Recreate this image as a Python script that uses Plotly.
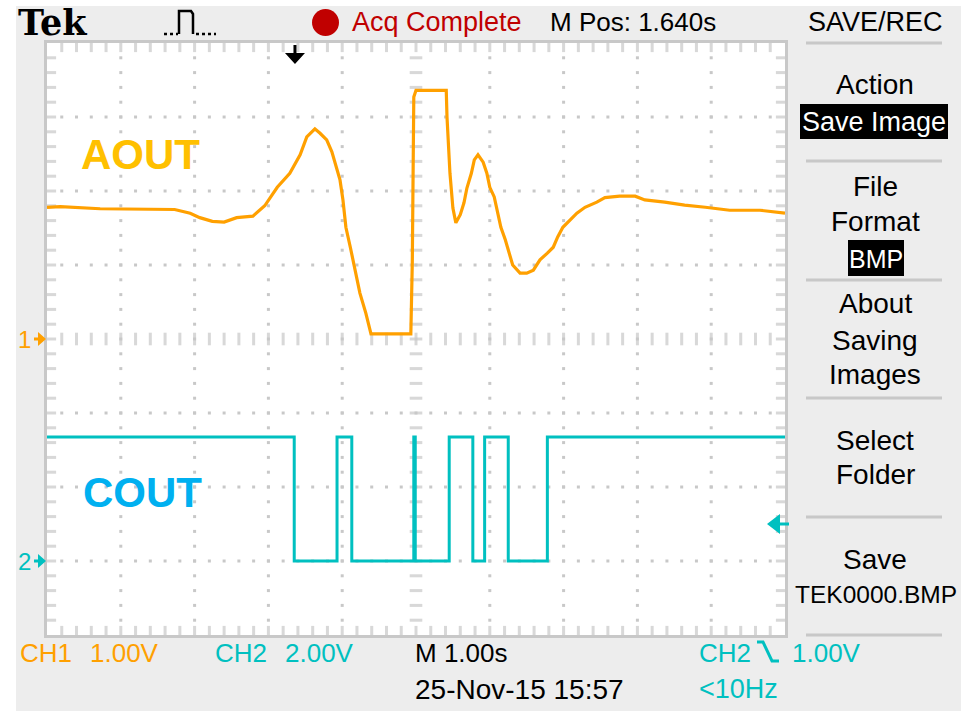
import plotly.graph_objects as go

# ---------------- data (read from the screen) ----------------
# time in seconds from left edge of the screen (1.00 s/div, 10 div)
aout_t = [0.00, 0.18, 0.72, 1.40, 1.73, 1.94, 2.07, 2.24, 2.40, 2.57, 2.79, 2.95, 3.12, 3.29, 3.43,
          3.52, 3.63, 3.70, 3.79, 3.86, 3.92, 3.97, 4.01, 4.05, 4.11, 4.17, 4.24, 4.32, 4.39, 4.93,
          4.95, 4.97, 5.00, 5.41, 5.42, 5.46, 5.50, 5.54, 5.60, 5.65, 5.69, 5.75, 5.79, 5.84, 5.91,
          5.96, 6.00, 6.06, 6.10, 6.15, 6.21, 6.26, 6.31, 6.41, 6.50, 6.59, 6.68, 6.78, 6.86, 6.92,
          6.99, 7.09, 7.18, 7.29, 7.45, 7.56, 7.76, 7.97, 8.10, 8.37, 8.64, 8.92, 9.25, 9.66, 10.0]
# CH1 volts
aout_v = [1.78, 1.79, 1.76, 1.76, 1.75, 1.70, 1.64, 1.59, 1.58, 1.64, 1.66, 1.80, 2.05, 2.24, 2.49,
          2.73, 2.84, 2.78, 2.69, 2.53, 2.32, 2.15, 1.88, 1.51, 1.24, 0.97, 0.62, 0.35, 0.07, 0.07,
          1.04, 3.27, 3.36, 3.36, 3.00, 2.24, 1.77, 1.57, 1.68, 1.84, 2.04, 2.24, 2.42, 2.49, 2.39,
          2.24, 2.05, 1.92, 1.74, 1.51, 1.34, 1.16, 1.00, 0.89, 0.89, 0.93, 1.07, 1.16, 1.24, 1.38,
          1.51, 1.61, 1.70, 1.78, 1.85, 1.91, 1.93, 1.93, 1.88, 1.85, 1.81, 1.78, 1.74, 1.74, 1.70]
# CH2 digital edges (time of each level change) and levels in volts
cout_t = [0.00, 3.35, 3.93, 4.13, 4.97, 4.99, 5.45, 5.77, 5.93, 6.25, 6.78, 10.0]
cout_v = [3.35, 0.00, 3.35, 0.00, 3.35, 0.00, 3.35, 0.00, 3.35, 0.00, 3.35, 3.35]

ch1_scale, ch1_pos = 1.0, 0.0     # V/div, div
ch2_scale, ch2_pos = 2.0, -3.0
trigger_time = 3.36               # s
trigger_level = 1.00              # V on CH2

# ---------------- styling ----------------
W, H = 961, 711
PL, PR, PT, PB = 47, 785, 43, 635
BG = "#EDEDED"
GRID = "#C8C8C8"
ORANGE = "#FFA000"
TEAL = "#00C0C0"
RED = "#C00000"
NARROW = "Liberation Sans Narrow, Liberation Sans, Arial, sans-serif"


def px(x):
    return x / W


def py(y):
    return 1 - y / H


def ppath(pts, close=False):
    s = "M " + " L ".join(f"{px(a):.5f},{py(b):.5f}" for a, b in pts)
    return s + (" Z" if close else "")


fig = go.Figure()

# graticule dots
gx, gy = [], []
for xi in range(1, 10):
    if xi == 5:
        continue
    for k in range(1, 40):
        gx.append(xi); gy.append(-4 + k * 0.2)
for yi in range(-3, 4):
    if yi == 0:
        continue
    for k in range(1, 50):
        gx.append(k * 0.2); gy.append(yi)
fig.add_trace(go.Scatter(x=gx, y=gy, mode="markers", hoverinfo="skip",
                         marker=dict(symbol="square", size=3, color=GRID, line=dict(width=0))))

# border ticks (vertical ones on top/bottom, horizontal on left/right) and centre dashes
tx = [k * 0.2 for k in range(1, 50)]
ty = [-4 + k * 0.2 for k in range(1, 40)]
fig.add_trace(go.Scatter(x=tx + tx + tx, y=[4] * 49 + [-4] * 49 + [0] * 49, mode="markers",
                         hoverinfo="skip",
                         marker=dict(symbol="line-ns", size=[13] * 98 + [9] * 49,
                                     line=dict(width=3, color=GRID))))
fig.add_trace(go.Scatter(x=[0] * 39 + [10] * 39 + [5] * 39, y=ty + ty + ty, mode="markers",
                         hoverinfo="skip",
                         marker=dict(symbol="line-ew", size=[13] * 78 + [9] * 39,
                                     line=dict(width=3, color=GRID))))

# CH2 (COUT)
fig.add_trace(go.Scatter(x=cout_t, y=[v / ch2_scale + ch2_pos for v in cout_v], mode="lines",
                         line=dict(color=TEAL, width=3, shape="hv"), hoverinfo="skip"))
# CH1 (AOUT)
fig.add_trace(go.Scatter(x=aout_t, y=[v / ch1_scale + ch1_pos for v in aout_v], mode="lines",
                         line=dict(color=ORANGE, width=3.2), hoverinfo="skip"))

shapes = []
# white strips at top/left of the screenshot
shapes.append(dict(type="rect", xref="paper", yref="paper", x0=0, x1=1, y0=py(6), y1=1,
                   fillcolor="white", line_width=0, layer="below"))
shapes.append(dict(type="rect", xref="paper", yref="paper", x0=0, x1=px(16), y0=0, y1=1,
                   fillcolor="white", line_width=0, layer="below"))
# menu separators
for yy in [43, 161, 280, 398, 517, 635]:
    shapes.append(dict(type="line", xref="paper", yref="paper", x0=px(806), x1=px(942),
                       y0=py(yy), y1=py(yy), line=dict(color=GRID, width=3)))
# inverted boxes
shapes.append(dict(type="rect", xref="paper", yref="paper", x0=px(800), x1=px(948),
                   y0=py(139), y1=py(104), fillcolor="black", line_width=0))
shapes.append(dict(type="rect", xref="paper", yref="paper", x0=px(848), x1=px(904),
                   y0=py(276), y1=py(240), fillcolor="black", line_width=0))
# red acquisition dot
shapes.append(dict(type="circle", xref="paper", yref="paper", x0=px(312), x1=px(339),
                   y0=py(36), y1=py(9), fillcolor=RED, line_width=0))
# pulse icon
shapes.append(dict(type="path", xref="paper", yref="paper",
                   path=ppath([(164, 34), (178, 34)]), line=dict(color="black", width=2.5, dash="dot")))
shapes.append(dict(type="path", xref="paper", yref="paper",
                   path=ppath([(179, 34), (179, 11), (191, 11), (193, 14), (193, 34)]),
                   line=dict(color="black", width=2.5)))
shapes.append(dict(type="path", xref="paper", yref="paper",
                   path=ppath([(196, 34), (216, 34)]), line=dict(color="black", width=2.5, dash="dot")))
# trigger position marker (top)
shapes.append(dict(type="path", xref="x", yref="paper", xsizemode="pixel", xanchor=trigger_time,
                   path=f"M -1.5,{py(45):.5f} L 1.5,{py(45):.5f} L 1.5,{py(53):.5f} L 10,{py(53):.5f} "
                        f"L 0,{py(64):.5f} L -10,{py(53):.5f} L -1.5,{py(53):.5f} Z",
                   fillcolor="black", line_width=0))
# ground markers
for lvl, col in [(ch1_pos, ORANGE), (ch2_pos, TEAL)]:
    shapes.append(dict(type="path", xref="paper", yref="y", ysizemode="pixel", yanchor=lvl,
                       path=f"M {px(34):.5f},1.5 L {px(38):.5f},1.5 L {px(38):.5f},7 L {px(46):.5f},0 "
                            f"L {px(38):.5f},-7 L {px(38):.5f},-1.5 L {px(34):.5f},-1.5 Z",
                       fillcolor=col, line_width=0))
# trigger level marker (right)
shapes.append(dict(type="path", xref="paper", yref="y", ysizemode="pixel",
                   yanchor=trigger_level / ch2_scale + ch2_pos,
                   path=f"M {px(767):.5f},0 L {px(780):.5f},10 L {px(780):.5f},1.5 L {px(789):.5f},1.5 "
                        f"L {px(789):.5f},-1.5 L {px(780):.5f},-1.5 L {px(780):.5f},-10 Z",
                   fillcolor=TEAL, line_width=0))
# trigger slope symbol
shapes.append(dict(type="path", xref="paper", yref="paper",
                   path=ppath([(757, 642), (763, 642), (772, 661), (779, 661)]),
                   line=dict(color=TEAL, width=3)))

ann = []


def txt(s, x, y, col="black", size=27, anchor="left", font=NARROW, bg=None):
    ann.append(dict(text=s, x=px(x), y=py(y), xref="paper", yref="paper", showarrow=False,
                    xanchor=anchor, yanchor="middle", font=dict(family=font, size=size, color=col),
                    bgcolor=bg))


# top bar
txt("<b>Tek</b>", 16, 23, size=35, font="DejaVu Serif, Liberation Serif, serif")
txt("Acq Complete", 350, 22, col=RED)
txt("M Pos: 1.640s", 548, 22, size=26)
txt("SAVE/REC", 875, 22, anchor="center")
# menu
for s, yy in [("Action", 84), ("File", 186), ("Format", 221), ("About", 304), ("Saving", 340),
              ("Images", 374), ("Select", 440), ("Folder", 474), ("Save", 559)]:
    txt(s, 875, yy, anchor="center", size=28)
txt("TEK0000.BMP", 876, 594, anchor="center", size=24.5)
txt("Save Image", 874, 122, col="white", anchor="center")
txt("BMP", 876, 259, col="white", anchor="center", size=25)
# bottom status
txt("CH1", 18, 653, col=ORANGE, size=26)
txt("1.00V", 88, 653, col=ORANGE, size=26)
txt("CH2", 213, 653, col=TEAL, size=26)
txt("2.00V", 283, 653, col=TEAL, size=26)
txt("M 1.00s", 413, 653, size=26)
txt("CH2", 697, 653, col=TEAL, size=26)
txt("1.00V", 790, 653, col=TEAL, size=26)
txt("25-Nov-15 15:57", 413, 689, size=28)
txt("<10Hz", 697, 689, col=TEAL, size=27)
# channel numbers
ann.append(dict(text="1", x=px(24), y=ch1_pos, xref="paper", yref="y", showarrow=False,
                xanchor="center", yanchor="middle", font=dict(family=NARROW, size=24, color=ORANGE)))
ann.append(dict(text="2", x=px(24), y=ch2_pos, xref="paper", yref="y", showarrow=False,
                xanchor="center", yanchor="middle", font=dict(family=NARROW, size=24, color=TEAL)))
# signal labels
ann.append(dict(text="<b>AOUT</b>", x=1.27, y=2.50, xref="x", yref="y", showarrow=False,
                font=dict(family="Liberation Sans, Arial, sans-serif", size=42, color="#FFC000")))
ann.append(dict(text="<b>COUT</b>", x=1.29, y=-2.08, xref="x", yref="y", showarrow=False,
                font=dict(family="Liberation Sans, Arial, sans-serif", size=42, color="#00B0F0")))

fig.update_layout(
    width=W, height=H, margin=dict(l=0, r=0, t=0, b=0, pad=0),
    paper_bgcolor=BG, plot_bgcolor="white", showlegend=False,
    shapes=shapes, annotations=ann,
    xaxis=dict(domain=[px(PL), px(PR)], range=[0, 10], showgrid=False, zeroline=False,
               showticklabels=False, ticks="", showline=True, mirror=True, linecolor=GRID,
               linewidth=3, fixedrange=True),
    yaxis=dict(domain=[py(PB), py(PT)], range=[-4, 4], showgrid=False, zeroline=False,
               showticklabels=False, ticks="", showline=True, mirror=True, linecolor=GRID,
               linewidth=3, fixedrange=True),
)

fig.write_html("out.html", config={"displayModeBar": False},
               post_script="document.body.style.margin='0';document.body.style.overflow='hidden';")
